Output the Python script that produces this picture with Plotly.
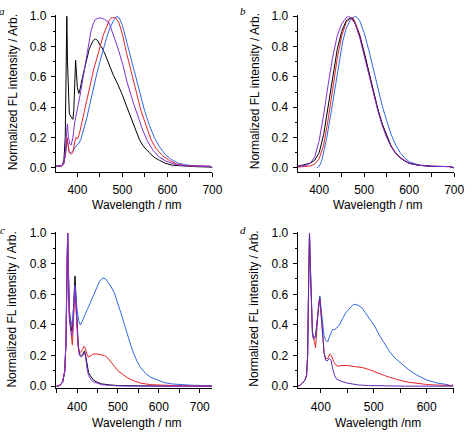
import plotly.graph_objects as go

# ---------------- data ----------------
# Panel a
a_black_wl = [350,360,366,370,373,375,376.5,378,380,382,385,388,390,392,394,396,398,400,403,406,410,414,418,422,426,430,435,440,445,450,455,460,465,470,480,490,495,500,505,510,516,520,525,530,538,545,550,560,570,582,595,611,630,660,695,700]
a_black = [0.01,0.01,0.015,0.05,0.2,0.6,1.0,0.7,0.45,0.36,0.34,0.33,0.32,0.38,0.6,0.71,0.62,0.53,0.49,0.52,0.58,0.63,0.68,0.74,0.78,0.81,0.84,0.85,0.84,0.81,0.79,0.76,0.72,0.68,0.61,0.55,0.52,0.48,0.44,0.40,0.356,0.32,0.28,0.24,0.185,0.15,0.13,0.10,0.07,0.05,0.03,0.017,0.012,0.008,0.005,0.0]
a_purple_wl = [350,365,370,373,376,378,380,383,386,390,394,398,402,406,410,415,420,425,430,435,440,450,460,470,480,490,501,510,523,535,545,555,567,580,596,610,625,650,680,695,700]
a_purple = [0.01,0.015,0.03,0.1,0.24,0.29,0.2,0.16,0.15,0.2,0.3,0.37,0.42,0.48,0.55,0.64,0.74,0.83,0.9,0.95,0.98,0.99,0.98,0.96,0.88,0.79,0.68,0.57,0.44,0.33,0.25,0.18,0.12,0.075,0.045,0.03,0.017,0.012,0.01,0.01,0.0]
a_red_wl = [350,365,370,374,377,379,382,386,390,394,397,400,404,410,415,421,430,437,443,450,458,465,470,475,485,492,500,509,520,531,541,552,563,574,589,604,620,640,670,695,700]
a_red = [0.01,0.012,0.03,0.1,0.2,0.15,0.1,0.09,0.1,0.17,0.2,0.19,0.22,0.3,0.37,0.45,0.58,0.66,0.72,0.8,0.88,0.93,0.97,0.99,0.99,0.96,0.88,0.76,0.62,0.5,0.38,0.28,0.19,0.13,0.08,0.05,0.025,0.015,0.012,0.01,0.0]
a_blue_wl = [350,365,370,374,377,379,382,386,392,398,403,408,413,417,421,427,432,437,443,450,458,465,472,480,487,493,500,508,516,527,538,549,560,571,582,596,611,625,640,660,695,700]
a_blue = [0.01,0.012,0.03,0.1,0.19,0.14,0.1,0.1,0.12,0.15,0.16,0.19,0.24,0.29,0.33,0.41,0.48,0.55,0.62,0.70,0.79,0.86,0.92,0.97,1.0,0.99,0.94,0.85,0.75,0.62,0.5,0.38,0.28,0.2,0.14,0.085,0.05,0.03,0.02,0.013,0.01,0.0]

# Panel b
b_purple_wl = [352,370,380,390,400,410,420,430,440,450,460,465,470,480,490,500,510,520,530,540,550,560,570,580,590,600,620,650,690,700]
b_purple = [0.01,0.015,0.03,0.07,0.18,0.35,0.55,0.73,0.87,0.95,0.99,1.0,0.99,0.95,0.86,0.74,0.62,0.49,0.38,0.28,0.2,0.14,0.095,0.065,0.045,0.03,0.017,0.01,0.008,0.0]
b_black_wl = [352,370,380,390,400,410,420,430,440,450,460,470,475,480,490,500,510,520,530,540,550,560,570,580,590,600,620,650,690,700]
b_black = [0.01,0.02,0.03,0.05,0.1,0.22,0.4,0.6,0.78,0.9,0.97,0.99,0.98,0.95,0.87,0.76,0.63,0.5,0.39,0.29,0.21,0.14,0.095,0.065,0.045,0.03,0.017,0.01,0.008,0.0]
b_red_wl = [352,370,380,390,400,410,420,430,440,450,460,470,475,480,490,500,510,520,530,540,550,560,570,580,590,600,620,650,690,700]
b_red = [0.005,0.01,0.012,0.025,0.06,0.15,0.32,0.52,0.72,0.87,0.96,0.99,0.99,0.96,0.88,0.76,0.63,0.5,0.39,0.29,0.21,0.145,0.1,0.068,0.046,0.03,0.017,0.01,0.008,0.0]
b_blue_wl = [395,400,405,410,416,425,434,443,452,460,470,480,485,490,500,510,520,530,540,550,560,570,580,590,600,620,650,690,700]
b_blue = [0.0,0.01,0.04,0.1,0.185,0.34,0.507,0.67,0.83,0.92,0.98,1.0,0.99,0.97,0.89,0.78,0.65,0.52,0.41,0.31,0.22,0.15,0.1,0.065,0.04,0.02,0.01,0.008,0.0]

# Panel c
c_black_wl = [350,355,360,365,370,373,375,377,379,381,384,387,389,391,393,395,397,400,403,406,410,414,418,421,424,428,432,436,440,450,460,480,500,550,700,730]
c_black = [0.0,0.0,0.01,0.03,0.1,0.3,0.7,1.0,0.75,0.48,0.42,0.36,0.38,0.5,0.66,0.72,0.6,0.38,0.26,0.21,0.2,0.21,0.23,0.2,0.14,0.09,0.07,0.05,0.04,0.025,0.015,0.008,0.004,0.002,0.0,0.0]
c_purple_wl = [350,355,360,365,370,373,375,377,379,381,384,387,389,391,393,395,397,400,403,406,410,414,418,421,424,428,432,436,440,450,460,480,500,550,700,730]
c_purple = [0.0,0.0,0.01,0.03,0.1,0.3,0.7,1.0,0.7,0.45,0.38,0.33,0.35,0.48,0.6,0.65,0.55,0.35,0.25,0.2,0.19,0.2,0.22,0.19,0.12,0.07,0.05,0.035,0.028,0.018,0.01,0.005,0.002,0.0,0.0,0.0]
c_red_wl = [350,360,365,370,373,375,377,379,381,384,387,388.5,390,392,394,396,399,402,405,409,413,417,420,424,428,433,440,450,460,467,475,480,491,500,507,515,523,539,555,579,611,650,730]
c_red = [0.0,0.01,0.03,0.1,0.3,0.7,1.0,0.72,0.45,0.38,0.3,0.27,0.35,0.5,0.6,0.58,0.4,0.28,0.23,0.22,0.24,0.26,0.25,0.21,0.19,0.2,0.21,0.21,0.205,0.2,0.185,0.17,0.13,0.1,0.085,0.07,0.055,0.035,0.02,0.01,0.005,0.002,0.0]
c_blue_wl = [350,360,365,370,373,375,377,379,381,384,387,389,391,393,395,397,400,404,408,412,416,420,425,430,435,440,445,450,455,463,470,475,483,491,499,507,515,523,531,539,547,555,567,579,595,611,630,651,680,700,730]
c_blue = [0.0,0.01,0.03,0.1,0.3,0.7,1.0,0.74,0.5,0.44,0.4,0.42,0.52,0.62,0.66,0.6,0.5,0.43,0.40,0.42,0.45,0.47,0.5,0.53,0.57,0.6,0.63,0.66,0.685,0.707,0.7,0.68,0.65,0.61,0.55,0.48,0.41,0.335,0.27,0.21,0.16,0.123,0.085,0.06,0.04,0.025,0.015,0.01,0.006,0.005,0.004]

# Panel d
d_purple_wl = [356,360,365,370,373,375,377,378.5,380,382,384,386,388,390,393,396,398,400,403,406,409,412,416,419,422,426,430,435,440,450,460,470,490,520,560,650]
d_purple = [0.0,0.005,0.02,0.04,0.07,0.2,0.7,1.0,0.8,0.5,0.35,0.31,0.31,0.33,0.42,0.54,0.58,0.5,0.32,0.22,0.17,0.165,0.18,0.17,0.12,0.07,0.045,0.035,0.03,0.02,0.012,0.008,0.004,0.002,0.0,0.0]
d_red_wl = [356,360,365,370,373,375,377,378.5,380,382,384,386,388,390,392,394,396,398,400,403,406,409,413,417,420,424,428,432,440,450,460,470,480,490,500,510,520,530,540,550,565,580,600,620,650]
d_red = [0.0,0.005,0.02,0.04,0.07,0.2,0.7,1.0,0.78,0.5,0.35,0.31,0.29,0.25,0.33,0.45,0.55,0.57,0.48,0.32,0.22,0.18,0.18,0.21,0.2,0.16,0.14,0.13,0.135,0.135,0.13,0.125,0.12,0.11,0.095,0.085,0.07,0.058,0.047,0.038,0.026,0.018,0.011,0.007,0.004]
d_blue_wl = [356,360,365,370,373,375,377,378.5,380,382,384,386,388,390,393,396,398,400,403,406,409,413,416,419,422,426,430,435,440,447,455,462,470,478,484,492,502,511,521,530,539,552,565,580,600,620,640,645,650]
d_blue = [0.0,0.005,0.02,0.04,0.07,0.2,0.7,1.0,0.8,0.52,0.36,0.32,0.32,0.33,0.43,0.55,0.59,0.52,0.4,0.33,0.3,0.29,0.32,0.35,0.37,0.37,0.38,0.4,0.43,0.48,0.51,0.535,0.53,0.51,0.48,0.44,0.39,0.33,0.27,0.225,0.187,0.15,0.11,0.075,0.04,0.02,0.01,0.0,0.01]

x_titles = ["Wavelength / nm", "Wavelength / nm", "Wavelength / nm", "Wavelength /nm"]
y_title = "Normalized FL intensity / Arb."
panel_labels = ["a", "b", "c", "d"]
x_ticks = [[400, 500, 600, 700], [400, 500, 600, 700], [400, 500, 600, 700], [400, 500, 600]]
y_ticks = [0.0, 0.2, 0.4, 0.6, 0.8, 1.0]

# ---------------- style ----------------
W, H = 474, 436
BLACK = "#000000"
RED = "#e8232a"
BLUE = "#3366e6"
PURPLE = "#7f2fd6"
DARK_PURPLE = "#5a2cb4"
FONT = "Liberation Sans"

panels = [
    ([(a_black_wl, a_black, BLACK), (a_blue_wl, a_blue, BLUE), (a_red_wl, a_red, RED), (a_purple_wl, a_purple, PURPLE)],
     [352, 700], [-0.03, 1.01], (57, 217), (10, 171.7)),
    ([(b_blue_wl, b_blue, BLUE), (b_red_wl, b_red, RED), (b_black_wl, b_black, BLACK), (b_purple_wl, b_purple, PURPLE)],
     [352, 700], [-0.03, 1.01], (304, 464), (10, 171.7)),
    ([(c_black_wl, c_black, BLACK), (c_blue_wl, c_blue, BLUE), (c_red_wl, c_red, RED), (c_purple_wl, c_purple, PURPLE)],
     [348, 731], [-0.01, 1.01], (57, 217), (232.4, 392.6)),
    ([(d_blue_wl, d_blue, BLUE), (d_red_wl, d_red, RED), (d_purple_wl, d_purple, DARK_PURPLE)],
     [356, 652], [-0.01, 1.01], (304, 464), (232.4, 392.6)),
]

fig = go.Figure()
layout = dict(
    width=W, height=H, margin=dict(l=0, r=0, t=0, b=0),
    paper_bgcolor="white", plot_bgcolor="white", showlegend=False,
    font=dict(family=FONT, size=12, color="black"),
)
annotations = []
for i, (series, xr, yr, xd, yd) in enumerate(panels):
    n = "" if i == 0 else str(i + 1)
    for wl, val, col in series:
        fig.add_trace(go.Scatter(x=wl, y=val, mode="lines", line=dict(color=col, width=1),
                                 xaxis="x" + n, yaxis="y" + n, hoverinfo="skip"))
    layout["xaxis" + n] = dict(
        domain=[xd[0] / W, xd[1] / W], range=xr, anchor="y" + n,
        showline=True, linecolor="black", linewidth=1, showgrid=False, zeroline=False,
        ticks="outside", ticklen=4, tickwidth=1, tickcolor="black",
        tickvals=x_ticks[i], tickfont=dict(family=FONT, size=12, color="black"),
        minor=dict(dtick=50, tick0=0, ticks="outside", ticklen=4, tickwidth=1, tickcolor="black", showgrid=False),
        ticklabelstandoff=2 if i < 2 else 4,
    )
    layout["yaxis" + n] = dict(
        domain=[1 - yd[1] / H, 1 - yd[0] / H], range=yr, anchor="x" + n,
        showline=True, linecolor="black", linewidth=1, showgrid=False, zeroline=False,
        ticks="outside", ticklen=4, tickwidth=1, tickcolor="black",
        tickvals=y_ticks, tickformat=".1f", tickfont=dict(family=FONT, size=12, color="black"),
        minor=dict(dtick=0.1, tick0=0, ticks="outside", ticklen=2, tickwidth=1, tickcolor="black", showgrid=False),
        ticklabelstandoff=2,
    )
    cx = (xd[0] + xd[1]) / 2 - 0.5
    ty = 205 if i < 2 else 429
    annotations.append(dict(text=x_titles[i], x=(cx + 3) / W, y=1 - ty / H, xref="paper", yref="paper",
                            showarrow=False, xanchor="center", yanchor="middle",
                            font=dict(family=FONT, size=12, color="black")))
    ytx = 12.7 if i % 2 == 0 else 260
    tyc = 89 if i < 2 else 312
    annotations.append(dict(text=y_title, x=ytx / W, y=1 - tyc / H, xref="paper", yref="paper",
                            showarrow=False, xanchor="center", yanchor="middle", textangle=-90,
                            font=dict(family=FONT, size=12, color="black")))
    lx = 2.5 if i % 2 == 0 else 248.5
    ly = 6 if i < 2 else 231
    annotations.append(dict(text="<i>" + panel_labels[i] + "</i>", x=lx / W, y=1 - ly / H,
                            xref="paper", yref="paper", showarrow=False,
                            xanchor="center", yanchor="middle",
                            font=dict(family="Liberation Serif", size=11, color="black")))

layout["annotations"] = annotations
fig.update_layout(**layout)
fig.write_html("out.html", config={"displayModeBar": False},
               post_script="document.body.style.margin='0';document.body.style.overflow='hidden';")
